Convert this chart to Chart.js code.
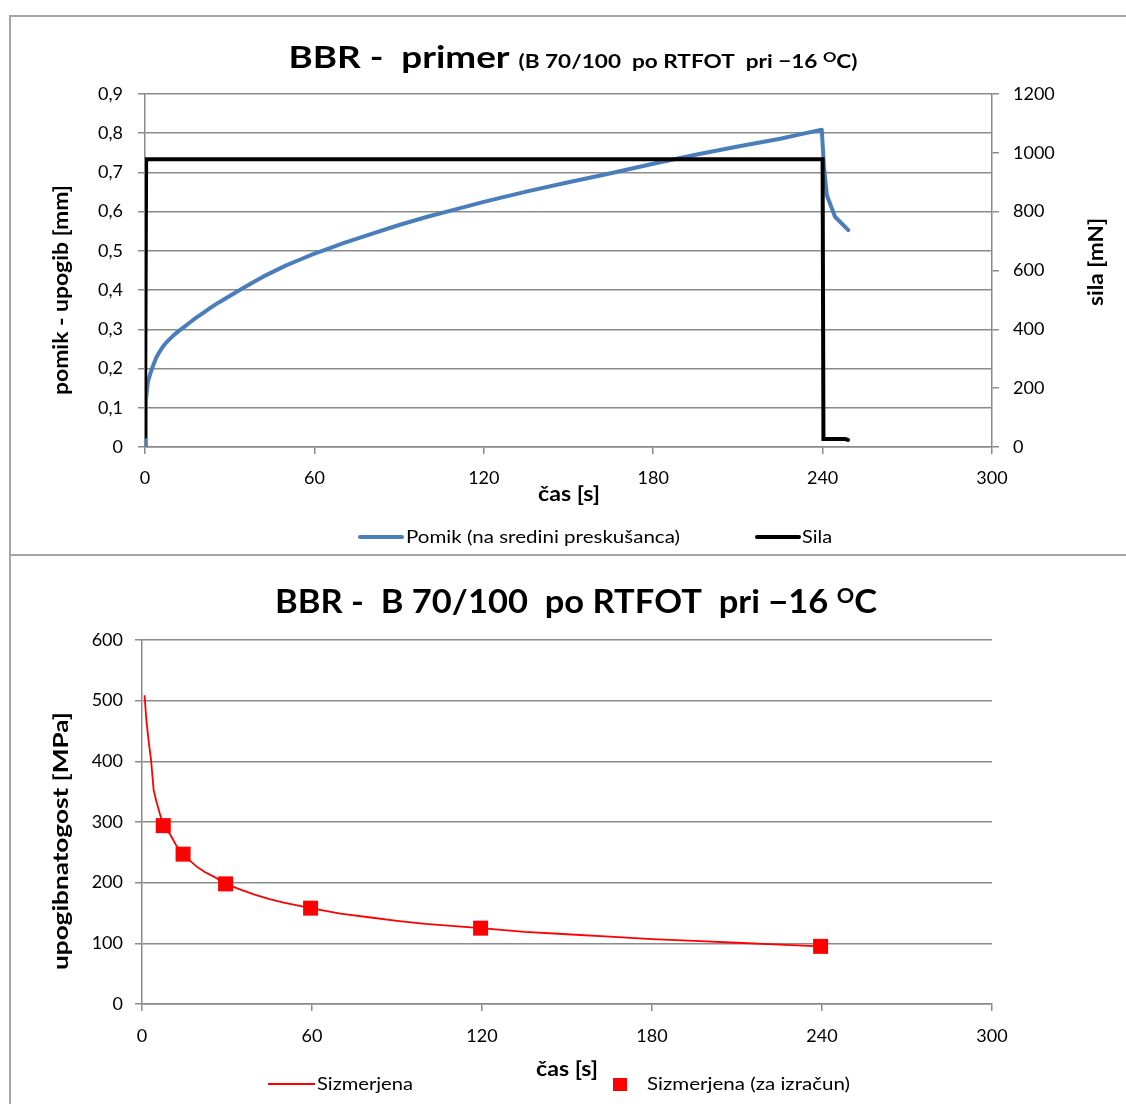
<!DOCTYPE html>
<html>
<head>
<meta charset="utf-8">
<title>BBR</title>
<script src="https://cdn.jsdelivr.net/npm/chart.js@4.4.0/dist/chart.umd.min.js"></script>
<style>
  body { margin: 0; background: #fff; width: 1126px; height: 1104px; position: relative; overflow: hidden; }
  .rule { position: absolute; background: #a6a6a6; }
  canvas { position: absolute; left: 0; }
</style>
</head>
<body>
<div class="rule" style="left:9px; top:15px; width:1117px; height:2px"></div>
<div class="rule" style="left:9px; top:15px; width:2px; height:1089px"></div>
<div class="rule" style="left:9px; top:554px; width:1117px; height:2px"></div>
<canvas id="zgoraj" width="1126" height="554" style="top:0"></canvas>
<canvas id="spodaj" width="1126" height="548" style="top:556px"></canvas>
<script>
// pomik na sredini preskusanca [mm]
const pomikCas = [0, 0.3, 1, 2, 3, 4, 5, 6, 7, 8, 10, 12, 14, 16, 18, 20, 23, 26, 30, 34, 38, 42, 46, 50, 55, 60, 65, 70, 80, 90, 100, 110, 120, 135, 150, 165, 180, 195, 210, 225, 232, 239.7, 240.5, 241.5, 244.4, 249.1];
const pomikMm = [0, 0.12, 0.165, 0.19, 0.21, 0.228, 0.241, 0.252, 0.262, 0.27, 0.284, 0.296, 0.307, 0.318, 0.329, 0.339, 0.354, 0.368, 0.385, 0.402, 0.419, 0.435, 0.449, 0.463, 0.478, 0.493, 0.506, 0.519, 0.543, 0.566, 0.587, 0.606, 0.625, 0.651, 0.675, 0.698, 0.722, 0.745, 0.766, 0.786, 0.797, 0.809, 0.714, 0.642, 0.587, 0.553];

// sila [mN]
const silaCas = [0, 0.4, 240, 240.3, 248, 249];
const silaMn = [35, 978, 978, 27, 27, 24];

// upogibna togost [MPa]
const togostCas = [0.9, 1.5, 2.3, 3.2, 4.1, 5.0, 5.9, 7.5, 10, 12, 14.5, 17, 19.4, 22, 25.3, 29.5, 35, 40, 45, 50, 59.5, 70, 80, 90, 100, 119.5, 135, 150, 165, 180, 195, 210, 225, 239.5];
const togostMpa = [509, 470, 435, 402, 353, 335, 320, 294, 279, 262, 247, 236, 226, 218, 210, 198, 188, 180, 173, 167, 158, 149, 143, 137, 132, 125, 119, 115, 111, 107, 104, 101, 98, 95];

// tocke za izracun
const izracunCas = [7.5, 14.5, 29.5, 59.5, 119.5, 239.5];
const izracunMpa = [294, 247, 198, 158, 125, 95];

const casTicks = [0, 60, 120, 180, 240, 300];
const pomikTicks = [0, 0.1, 0.2, 0.3, 0.4, 0.5, 0.6, 0.7, 0.8, 0.9];
const silaTicks = [0, 200, 400, 600, 800, 1000, 1200];
const togostTicks = [0, 100, 200, 300, 400, 500, 600];

const FONT = "Lato, 'Open Sans', sans-serif";
const GRID = "#8a8a8a";

const pts = (xs, ys) => xs.map((x, i) => ({ x: x, y: ys[i] }));
const setTicks = (list) => (s) => { s.ticks = list.map(v => ({ value: v })); };
const vejica = (v) => String(Math.round(v * 10) / 10).replace(".", ",");

// besedilo iz vec delov (razlicne pisave, nadpis), raztegnjeno na dano sirino
const drawParts = (ctx, parts, cx, y, width) => {
  let total = 0;
  parts.forEach(p => { ctx.font = p.font; p.w = ctx.measureText(p.text).width; total += p.w; });
  ctx.save();
  ctx.translate(cx - width / 2, y);
  ctx.scale(width / total, 1);
  ctx.textAlign = "left";
  ctx.textBaseline = "alphabetic";
  let x = 0;
  parts.forEach(p => {
    ctx.font = p.font;
    ctx.fillText(p.text, x, -(p.up || 0));
    x += p.w;
  });
  ctx.restore();
};

// en napis; width = zelena dolzina, rot = zasuk
const drawText = (ctx, text, x, y, font, width, align, rot) => {
  ctx.save();
  ctx.font = font;
  const w = ctx.measureText(text).width;
  ctx.translate(x, y);
  if (rot) ctx.rotate(rot);
  ctx.scale(width / w, 1);
  ctx.textAlign = align || "left";
  ctx.textBaseline = "middle";
  ctx.fillText(text, 0, 0);
  ctx.restore();
};

const tickFont = { family: FONT, size: 18 };
const UP = -Math.PI / 2;

// zgornji graf: pomik in sila
new Chart(document.getElementById("zgoraj"), {
  type: "line",
  data: {
    datasets: [
      {
        label: "Pomik (na sredini preskušanca)",
        data: pts(pomikCas, pomikMm),
        yAxisID: "y",
        borderColor: "#4a7ebb",
        borderWidth: 4,
        pointRadius: 0,
        borderCapStyle: "round",
        borderJoinStyle: "round",
        order: 2
      },
      {
        label: "Sila",
        data: pts(silaCas, silaMn),
        yAxisID: "y1",
        borderColor: "#000000",
        borderWidth: 4,
        pointRadius: 0,
        borderCapStyle: "round",
        order: 1
      }
    ]
  },
  options: {
    responsive: false,
    animation: false,
    events: [],
    layout: { padding: { top: 94, left: 0, right: 0, bottom: 0 } },
    plugins: { legend: { display: false }, tooltip: { enabled: false }, title: { display: false } },
    scales: {
      x: {
        type: "linear", min: 0, max: 300,
        afterBuildTicks: setTicks(casTicks),
        afterFit: s => { s.height = 107; },
        grid: { drawOnChartArea: false, color: GRID, lineWidth: 1.5, tickLength: 7 },
        border: { color: GRID, width: 1.5 },
        ticks: { font: tickFont, color: "#000", padding: 13, maxRotation: 0, callback: v => String(v) }
      },
      y: {
        type: "linear", position: "left", min: 0, max: 0.9,
        afterBuildTicks: setTicks(pomikTicks),
        afterFit: s => { s.width = 145; },
        grid: { color: GRID, lineWidth: 1.5, tickLength: 7 },
        border: { color: GRID, width: 1.5 },
        ticks: { font: tickFont, color: "#000", padding: 15, callback: v => vejica(v) }
      },
      y1: {
        type: "linear", position: "right", min: 0, max: 1200,
        afterBuildTicks: setTicks(silaTicks),
        afterFit: s => { s.width = 134; },
        grid: { drawOnChartArea: false, color: GRID, lineWidth: 1.5, tickLength: 7 },
        border: { color: GRID, width: 1.5 },
        ticks: { font: tickFont, color: "#000", padding: 14, callback: v => String(v) }
      }
    }
  },
  plugins: [{
    id: "besedilo",
    afterDraw(chart) {
      const ctx = chart.ctx;
      ctx.save();
      ctx.fillStyle = "#000";
      drawParts(ctx, [
        { text: "BBR -  primer ", font: "bold 31px " + FONT },
        { text: "(B 70/100  po RTFOT  pri \u221216 ", font: "bold 19px " + FONT },
        { text: "O", font: "bold 14px " + FONT, up: 6 },
        { text: "C)", font: "bold 19px " + FONT }
      ], 573, 68, 569);
      drawText(ctx, "čas [s]", 569, 495, "bold 20px " + FONT, 62, "center");
      drawText(ctx, "pomik - upogib [mm]", 62, 290, "bold 20px " + FONT, 210, "center", UP);
      drawText(ctx, "sila [mN]", 1097, 262, "bold 20px " + FONT, 88, "center", UP);

      // legenda
      ctx.lineCap = "round";
      ctx.lineWidth = 4;
      ctx.strokeStyle = "#4a7ebb";
      ctx.beginPath(); ctx.moveTo(360, 537); ctx.lineTo(402, 537); ctx.stroke();
      ctx.strokeStyle = "#000";
      ctx.beginPath(); ctx.moveTo(757, 537); ctx.lineTo(799, 537); ctx.stroke();
      drawText(ctx, "Pomik (na sredini preskušanca)", 406, 537, "18px " + FONT, 274);
      drawText(ctx, "Sila", 802, 537, "18px " + FONT, 30);
      ctx.restore();
    }
  }]
});

// spodnji graf: upogibna togost
new Chart(document.getElementById("spodaj"), {
  type: "line",
  data: {
    datasets: [
      {
        label: "Sizmerjena (za izračun)",
        data: pts(izracunCas, izracunMpa),
        showLine: false,
        pointStyle: "rect",
        pointRadius: 10.6,
        pointBorderWidth: 0,
        pointBackgroundColor: "#ff0000",
        borderColor: "#ff0000",
        order: 1
      },
      {
        label: "Sizmerjena",
        data: pts(togostCas, togostMpa),
        borderColor: "#ff0000",
        borderWidth: 1.8,
        pointRadius: 0,
        order: 2
      }
    ]
  },
  options: {
    responsive: false,
    animation: false,
    events: [],
    layout: { padding: { top: 84, left: 0, right: 134, bottom: 0 } },
    plugins: { legend: { display: false }, tooltip: { enabled: false }, title: { display: false } },
    scales: {
      x: {
        type: "linear", min: 0, max: 300,
        afterBuildTicks: setTicks(casTicks),
        afterFit: s => { s.height = 100; },
        grid: { drawOnChartArea: false, color: GRID, lineWidth: 1.5, tickLength: 7 },
        border: { color: GRID, width: 1.5 },
        ticks: { font: tickFont, color: "#000", padding: 14, maxRotation: 0, callback: v => String(v) }
      },
      y: {
        type: "linear", position: "left", min: 0, max: 600,
        afterBuildTicks: setTicks(togostTicks),
        afterFit: s => { s.width = 142; },
        grid: { color: GRID, lineWidth: 1.5, tickLength: 7 },
        border: { color: GRID, width: 1.5 },
        ticks: { font: tickFont, color: "#000", padding: 12, callback: v => String(v) }
      }
    }
  },
  plugins: [{
    id: "besedilo",
    afterDraw(chart) {
      const ctx = chart.ctx;
      ctx.save();
      ctx.fillStyle = "#000";
      drawParts(ctx, [
        { text: "BBR -  B 70/100  po RTFOT  pri \u221216 ", font: "bold 32px " + FONT },
        { text: "O", font: "bold 20px " + FONT, up: 10 },
        { text: "C", font: "bold 32px " + FONT }
      ], 576, 57, 602);
      drawText(ctx, "čas [s]", 567, 514, "bold 20px " + FONT, 62, "center");
      drawText(ctx, "upogibnatogost [MPa]", 62, 285, "bold 20px " + FONT, 258, "center", UP);

      // legenda
      ctx.strokeStyle = "#ff0000";
      ctx.lineWidth = 1.8;
      ctx.beginPath(); ctx.moveTo(268, 528); ctx.lineTo(315, 528); ctx.stroke();
      drawText(ctx, "Sizmerjena", 317, 528, "18px " + FONT, 96);
      ctx.fillStyle = "#ff0000";
      ctx.fillRect(613, 522, 14, 13);
      ctx.fillStyle = "#000";
      drawText(ctx, "Sizmerjena (za izračun)", 647, 528, "18px " + FONT, 203);
      ctx.restore();
    }
  }]
});
</script>
</body>
</html>
